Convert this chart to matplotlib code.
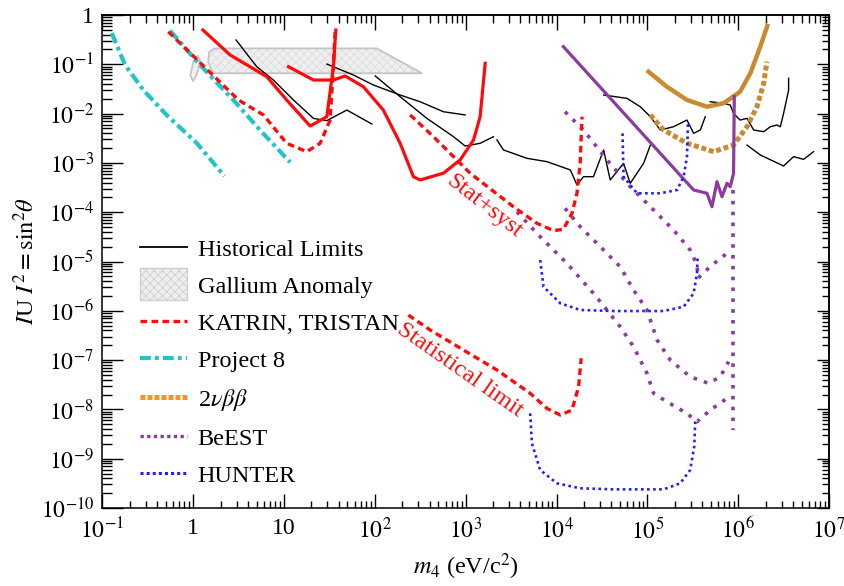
import matplotlib
matplotlib.use("Agg")
import matplotlib.pyplot as plt
import numpy as np
from matplotlib.lines import Line2D
from matplotlib.patches import Patch, Polygon, Rectangle
from matplotlib.legend_handler import HandlerPatch
from matplotlib.ticker import NullFormatter, LogLocator

plt.rcParams['font.family'] = ['Liberation Serif', 'DejaVu Serif']
plt.rcParams['mathtext.fontset'] = 'stix'
plt.rcParams['hatch.linewidth'] = 0.6

# ---------------- data (m4 in eV, |U|^2) ----------------
# Project 8
p8a_x = [0.127, 0.178, 0.283, 0.51, 1.10, 2.21]
p8a_y = [0.43, 0.097, 0.030, 9.4e-3, 2.5e-3, 5.4e-4]
p8b_x = [0.557, 1.19, 2.77, 5.46, 11.7]
p8b_y = [0.48, 0.097, 0.0189, 4.6e-3, 1.03e-3]

# KATRIN / TRISTAN
kat_dash1_x = [0.533, 3.15, 5.93, 10.7, 17.8, 25.0, 32.2, 34.8, 36.6]
kat_dash1_y = [0.458, 0.0189, 9.4e-3, 2.5e-3, 1.69e-3, 2.5e-3, 7.4e-3, 0.0766, 0.497]
kat_sol1_x = [1.28, 2.55, 6.47, 10.7, 19.4, 29.6, 35.0, 37.2]
kat_sol1_y = [0.497, 0.155, 0.056, 0.0189, 5.6e-3, 8.65e-3, 0.0894, 0.497]
kat_sol2_x = [11.2, 21.1, 35.0, 47.1, 74.8, 124, 190, 266, 315, 570, 869, 1219, 1443, 1640]
kat_sol2_y = [0.0894, 0.048, 0.048, 0.058, 0.0351, 0.0118, 2.5e-3, 5.25e-4, 4.5e-4,
              6.2e-4, 1.15e-3, 2.9e-3, 8.65e-3, 0.105]
tri_syst_x = [245, 442, 735, 1122, 3.36e3, 6.08e3, 9.27e3, 1.19e4, 1.48e4, 1.68e4, 1.82e4, 1.91e4]
tri_syst_y = [9.4e-3, 3.4e-3, 1.34e-3, 6.15e-4, 1.29e-4, 5.96e-5, 4.22e-5, 4.5e-5,
              9.5e-5, 2.42e-4, 9.8e-4, 8.65e-3]
tri_stat_x = [234, 406, 946, 2.21e3, 5.13e3, 7.83e3, 1.10e4, 1.48e4, 1.75e4, 1.87e4]
tri_stat_y = [8.2e-7, 4.08e-7, 1.6e-7, 6.3e-8, 2.12e-8, 1.05e-8, 7.7e-9, 9.7e-9, 2.88e-8, 1.09e-7]

# Historical limits (black)
hist_a_x = [2.97, 5.01, 7.64, 12.7, 21.1, 29.6, 49.2, 92.7]
hist_a_y = [0.311, 0.0894, 0.048, 0.0189, 8.0e-3, 7.2e-3, 0.0118, 6.15e-3]
hist_b_x = [29.6, 58.1, 96.5, 190, 315, 570, 986]
hist_b_y = [0.101, 0.0607, 0.038, 0.0238, 0.0174, 0.0109, 9.4e-3]
hist_c_x = [101, 190, 374, 735, 986, 1443, 2022]
hist_c_y = [0.058, 0.022, 8.0e-3, 3.4e-3, 2.2e-3, 2.5e-3, 3.4e-3]
hist_d_x = [2208, 2608, 4721, 7834, 1.42e4, 1.68e4, 1.98e4, 2.55e4, 3.30e4, 3.90e4,
            5.47e4, 6.48e4, 9.09e4, 1.08e5]
hist_d_y = [2.92e-3, 1.83e-3, 1.24e-3, 1.06e-3, 7.2e-4, 3.56e-4, 5.25e-4, 5.25e-4, 1.83e-3,
            4.5e-4, 9.8e-4, 3.86e-4, 9.8e-4, 2.3e-3]
hist_e_x = [3.30e4, 5.96e4, 8.35e4, 1.08e5, 1.39e5, 1.94e5, 2.73e5, 3.23e5, 3.83e5, 4.34e5]
hist_e_y = [0.0238, 0.0204, 0.0138, 8.65e-3, 4.65e-3, 5.42e-3, 7.4e-3, 3.98e-3, 4.65e-3, 8.65e-3]
hist_f_x = [4.92e5, 6.90e5, 8.18e5, 8.89e5, 1.05e6, 1.25e6, 1.48e6, 1.91e6, 2.26e6, 2.67e6,
            2.91e6, 3.16e6, 3.59e6, 3.59e6]
hist_f_y = [0.0174, 0.0162, 0.0149, 0.0101, 7.4e-3, 8.0e-3, 4.65e-3, 4.3e-3, 5.42e-3, 5.87e-3,
            5.42e-3, 0.0101, 0.030, 0.052]
hist_g_x = [1.25e6, 1.75e6, 3.16e6, 4.07e6, 5.25e6, 6.76e6]
hist_g_y = [2.3e-3, 1.45e-3, 8.65e-4, 1.34e-3, 1.18e-3, 1.69e-3]

# Gallium anomaly region
ga_x = [1.74, 105, 330, 1.66, 1.46, 1.50]
ga_y = [0.21, 0.21, 0.0657, 0.0657, 0.111, 0.178]
ga_blob_x = [0.93, 1.00, 1.12, 1.19, 1.12, 1.00]
ga_blob_y = [0.060, 0.045, 0.070, 0.120, 0.150, 0.110]

# 2 nu beta beta
bb_sol_x = [1.03e5, 1.64e5, 2.73e5, 4.53e5, 6.90e5, 1.05e6, 1.36e6, 1.75e6, 2.09e6]
bb_sol_y = [0.0708, 0.0351, 0.0189, 0.0138, 0.0162, 0.0278, 0.0657, 0.228, 0.598]
bb_dot_x = [1.08e5, 1.51e5, 2.73e5, 5.36e5, 8.89e5, 1.25e6, 1.61e6, 1.91e6, 2.07e6]
bb_dot_y = [9.4e-3, 4.65e-3, 2.5e-3, 1.69e-3, 2.3e-3, 5.42e-3, 0.0138, 0.0412, 0.113]

# BeEST
be_sol_x = [1.19e4, 3.23e5, 4.53e5, 5.14e5, 5.84e5, 6.63e5, 7.53e5, 8.18e5, 8.89e5, 9.06e5]
be_sol_y = [0.228, 2.82e-4, 2.42e-4, 1.29e-4, 4.16e-4, 2.06e-4, 3.86e-4, 3.29e-4, 6.15e-4, 0.022]
be_d1_x = [1.24e4, 1.98e4, 3.59e4, 6.48e4, 1.08e5, 1.94e5, 2.96e5, 3.52e5, 3.62e5, 4.9e5, 7.53e5, 8.4e5]
be_d1_y = [0.0109, 4.65e-3, 1.15e-3, 3.29e-4, 1.29e-4, 4.36e-5, 1.71e-5, 8.5e-6, 4.6e-6,
           7.85e-6, 1.47e-5, 1.71e-5]
be_d2_x = [1.24e4, 1.82e4, 3.03e4, 5.02e4, 7.05e4, 9.9e4, 1.28e5, 1.79e5, 2.96e5, 4.72e5, 6.35e5, 7.84e5]
be_d2_y = [1.2e-4, 5.08e-5, 2.0e-5, 7.85e-6, 2.64e-6, 1.04e-6, 2.56e-7, 1.0e-7, 4.6e-8,
           3.38e-8, 4.6e-8, 9.3e-8]
be_d3_x = [3.66e3, 6.61e3, 1.30e4, 2.55e4, 3.59e4, 5.02e4, 7.05e4, 9.9e4, 1.17e5, 1.64e5,
           2.73e5, 3.52e5, 4.93e5, 7.53e5]
be_d3_y = [1.02e-4, 3.18e-5, 9.2e-6, 2.26e-6, 1.04e-6, 4.75e-7, 1.87e-7, 5.4e-8, 2.12e-8,
           1.43e-8, 8.3e-9, 5.6e-9, 9.7e-9, 1.68e-8]
be_vert_x = [8.71e5, 8.71e5]
be_vert_y = [2.8e-4, 3.8e-9]

# HUNTER
hu1_x = [5.33e4, 5.47e4, 7.69e4, 1.39e5, 2.12e5, 2.51e5, 2.73e5, 2.80e5]
hu1_y = [3.98e-3, 5.25e-4, 2.42e-4, 2.42e-4, 2.82e-4, 5.25e-4, 1.34e-3, 6.35e-3]
hu2_x = [6.61e3, 7.19e3, 1.10e4, 1.82e4, 4.24e4, 1.51e5, 2.51e5, 3.23e5, 3.52e5, 3.57e5]
hu2_y = [1.07e-5, 3.08e-6, 1.42e-6, 1.04e-6, 9.9e-7, 9.9e-7, 1.21e-6, 2.26e-6, 5.77e-6, 1.16e-5]
hu3_x = [5.13e3, 5.36e3, 6.61e3, 1.01e4, 1.82e4, 4.24e4, 1.51e5, 2.30e5, 2.96e5, 3.28e5, 3.37e5]
hu3_y = [8.3e-9, 2.05e-9, 5.9e-10, 3.17e-10, 2.51e-10, 2.39e-10, 2.39e-10, 3.17e-10,
         5.9e-10, 1.75e-9, 6.1e-9]

x_ticks = [1e-1, 1, 10, 1e2, 1e3, 1e4, 1e5, 1e6, 1e7]
x_ticklabels = ['$10^{-1}$', '1', '10', '$10^{2}$', '$10^{3}$', '$10^{4}$', '$10^{5}$',
                '$10^{6}$', '$10^{7}$']
y_ticks = [1, 1e-1, 1e-2, 1e-3, 1e-4, 1e-5, 1e-6, 1e-7, 1e-8, 1e-9, 1e-10]
y_ticklabels = ['1', '$10^{-1}$', '$10^{-2}$', '$10^{-3}$', '$10^{-4}$', '$10^{-5}$',
                '$10^{-6}$', '$10^{-7}$', '$10^{-8}$', '$10^{-9}$', '$10^{-10}$']

# ---------------- style ----------------
RED = '#ff0a0a'
CYAN = '#22c4c6'
BROWN = '#c98a32'
ORANGE = '#f7941d'
PURPLE = '#8c3c9c'
BLUE = '#2020ff'
GRAY_E = '#c4c4c4'
FS = 17.5

fig = plt.figure(figsize=(8.45, 5.86), dpi=100)
ax = fig.add_axes([0.1211, 0.1331, 0.8600, 0.8413])
ax.set_xscale('log')
ax.set_yscale('log')
ax.set_xlim(1e-1, 1e7)
ax.set_ylim(1e-10, 1)

# Gallium anomaly
poly = Polygon(np.column_stack([ga_x, ga_y]), closed=True, facecolor='#efefef',
               edgecolor='#dcdcdc', hatch='xxxx', linewidth=0, zorder=1)
ax.add_patch(poly)
poly2 = Polygon(np.column_stack([ga_x, ga_y]), closed=True, facecolor='none',
                edgecolor=GRAY_E, linewidth=1.3, zorder=1.1)
ax.add_patch(poly2)
blob = Polygon(np.column_stack([ga_blob_x, ga_blob_y]), closed=True, facecolor='#f2f2f2',
               edgecolor=GRAY_E, linewidth=1.3, zorder=1.1)
ax.add_patch(blob)

# Historical limits
for xs, ys in [(hist_a_x, hist_a_y), (hist_b_x, hist_b_y), (hist_c_x, hist_c_y),
               (hist_d_x, hist_d_y), (hist_e_x, hist_e_y), (hist_f_x, hist_f_y),
               (hist_g_x, hist_g_y)]:
    ax.plot(xs, ys, color='black', lw=1.0, zorder=3)

# Project 8
p8_ls = (0, (2.6, 1.0, 0.9, 1.0))
ax.plot(p8a_x, p8a_y, color=CYAN, lw=3.0, ls=p8_ls, zorder=4)
ax.plot(p8b_x, p8b_y, color=CYAN, lw=3.0, ls=p8_ls, zorder=4)

# KATRIN / TRISTAN
kd_ls = (0, (2.0, 1.3))
ax.plot(kat_dash1_x, kat_dash1_y, color=RED, lw=2.4, ls=kd_ls, zorder=5)
ax.plot(kat_sol1_x, kat_sol1_y, color=RED, lw=2.3, zorder=5)
ax.plot(kat_sol2_x, kat_sol2_y, color=RED, lw=2.3, zorder=5)
ax.plot(tri_syst_x, tri_syst_y, color=RED, lw=2.4, ls=kd_ls, zorder=5)
ax.plot(tri_stat_x, tri_stat_y, color=RED, lw=2.4, ls=kd_ls, zorder=5)

# 2 nu beta beta
ax.plot(bb_sol_x, bb_sol_y, color=BROWN, lw=3.2, zorder=4)
ax.plot(bb_dot_x, bb_dot_y, color=BROWN, lw=3.6, ls=(0, (1.0, 0.55)), zorder=4)

# BeEST
be_ls = (0, (1.0, 2.0))
ax.plot(be_sol_x, be_sol_y, color=PURPLE, lw=2.3, zorder=4)
for xs, ys in [(be_d1_x, be_d1_y), (be_d2_x, be_d2_y), (be_d3_x, be_d3_y),
               (be_vert_x, be_vert_y)]:
    ax.plot(xs, ys, color=PURPLE, lw=2.6, ls=be_ls, zorder=4)

# HUNTER
hu_ls = (0, (1.0, 1.3))
for xs, ys in [(hu1_x, hu1_y), (hu2_x, hu2_y), (hu3_x, hu3_y)]:
    ax.plot(xs, ys, color=BLUE, lw=1.9, ls=hu_ls, zorder=4)

# annotations
ax.text(1.6e3, 1.34e-4, 'Stat+syst', color=RED, fontsize=FS, rotation=-38,
        ha='center', va='center', rotation_mode='anchor', zorder=6)
ax.text(869, 6.3e-8, 'Statistical limit', color=RED, fontsize=FS, rotation=-35,
        ha='center', va='center', rotation_mode='anchor', zorder=6)

# axes / ticks
ax.set_xticks(x_ticks)
ax.set_xticklabels(x_ticklabels)
ax.set_yticks(y_ticks)
ax.set_yticklabels(y_ticklabels)
ax.xaxis.set_minor_locator(LogLocator(base=10, subs=np.arange(2, 10), numticks=20))
ax.yaxis.set_minor_locator(LogLocator(base=10, subs=np.arange(2, 10), numticks=20))
ax.xaxis.set_minor_formatter(NullFormatter())
ax.yaxis.set_minor_formatter(NullFormatter())
ax.tick_params(axis='x', which='major', direction='in', length=10, width=1.0,
               labelsize=17, pad=7)
ax.tick_params(axis='x', which='minor', direction='in', length=5, width=1.0)
ax.tick_params(axis='y', which='major', direction='in', length=15, width=1.0,
               labelsize=17, pad=6)
ax.tick_params(axis='y', which='minor', direction='in', length=7.5, width=1.0)
for s in ax.spines.values():
    s.set_linewidth(1.1)

secx = ax.secondary_xaxis('top')
secx.set_xticks(x_ticks)
secx.xaxis.set_minor_locator(LogLocator(base=10, subs=np.arange(2, 10), numticks=20))
secx.xaxis.set_major_formatter(NullFormatter())
secx.xaxis.set_minor_formatter(NullFormatter())
secx.tick_params(which='major', direction='in', length=10.5, width=1.0)
secx.tick_params(which='minor', direction='in', length=5.5, width=1.0)
secx.spines['top'].set_linewidth(1.1)

secy = ax.secondary_yaxis('right')
secy.set_yticks(y_ticks)
secy.yaxis.set_minor_locator(LogLocator(base=10, subs=np.arange(2, 10), numticks=20))
secy.yaxis.set_major_formatter(NullFormatter())
secy.yaxis.set_minor_formatter(NullFormatter())
secy.tick_params(which='major', direction='in', length=8.5, width=1.0)
secy.tick_params(which='minor', direction='in', length=5, width=1.0)
secy.spines['right'].set_linewidth(1.1)

ax.set_xlabel('$m_4$ (eV/c$^2$)', fontsize=FS, labelpad=6)
ax.set_ylabel(r'$I$U $I^2 = \mathrm{sin}^2\theta$', fontsize=FS, labelpad=1)

# legend
def tall_patch(legend, orig_handle, xdescent, ydescent, width, height, fontsize):
    return Rectangle((-xdescent, -ydescent - 0.45 * height), width, height * 1.9)

handles = [
    Line2D([], [], color='black', lw=1.3),
    Patch(facecolor='#efefef', edgecolor='#cfcfcf', hatch='xxxx', linewidth=1.0),
    Line2D([], [], color=RED, lw=2.4, ls=kd_ls),
    Line2D([], [], color=CYAN, lw=3.0, ls=p8_ls),
    Line2D([], [], color=ORANGE, lw=3.6, ls=(0, (1.0, 0.4))),
    Line2D([], [], color=PURPLE, lw=2.4, ls=(0, (1.0, 1.0))),
    Line2D([], [], color=BLUE, lw=2.2, ls=(0, (1.0, 1.0))),
]
labels = ['Historical Limits', 'Gallium Anomaly', 'KATRIN, TRISTAN', 'Project 8',
          r'2$\nu\beta\beta$', 'BeEST', 'HUNTER']
leg = fig.legend(handles, labels, loc='upper left', bbox_to_anchor=(0.1657, 0.593),
                 frameon=False, fontsize=FS, handlelength=1.95, handletextpad=0.42,
                 labelspacing=0.62, borderpad=0, borderaxespad=0,
                 handler_map={Patch: HandlerPatch(patch_func=tall_patch)})

fig.savefig('out.png', dpi=100)
